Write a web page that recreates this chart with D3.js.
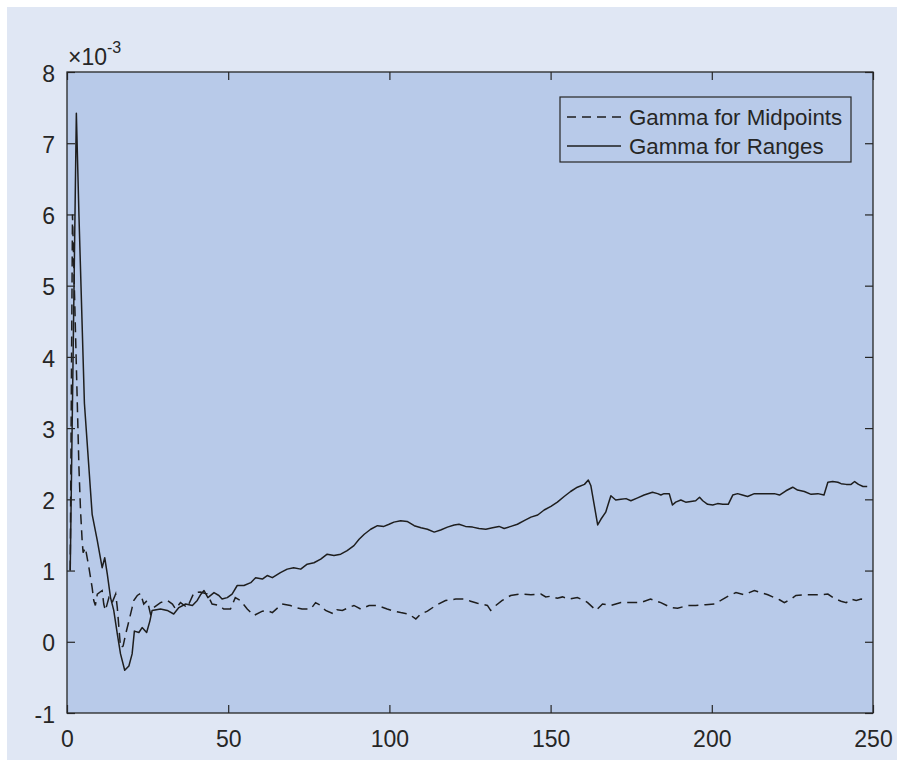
<!DOCTYPE html>
<html><head><meta charset="utf-8">
<script src="https://cdn.jsdelivr.net/npm/d3@7"></script>
<style>
html,body{margin:0;padding:0;background:#ffffff;}
svg text{font-family:"Liberation Sans",Arial,Helvetica,sans-serif;fill:#262626;}
</style></head>
<body>
<svg id="chart" width="904" height="767"></svg>
<script>
// ---- data (values in units of 1e-3) ----
const xTicks = [0, 50, 100, 150, 200, 250];
const yTicks = [-1, 0, 1, 2, 3, 4, 5, 6, 7, 8];
const seriesNames = ["Gamma for Midpoints", "Gamma for Ranges"];

const rangesX = [1.0,2.9,3.7,5.4,7.8,9.4,10.9,11.7,12.5,13.5,14.5,15.6,16.6,17.9,19.2,20.2,20.9,22.3,23.3,24.7,25.7,26.4,29.0,31.1,33.1,34.7,36.8,38.9,40.4,41.4,42.5,43.7,45.6,47.1,48.1,49.7,51.2,52.8,54.9,57.0,58.5,60.6,62.1,63.7,66.2,68.3,70.3,72.5,74.5,76.6,78.7,80.7,82.8,84.9,86.9,89.0,90.6,92.2,94.2,96.3,98.3,99.9,101.4,103.5,105.5,107.7,109.8,111.8,113.9,115.9,118.0,120.1,121.6,123.6,125.8,127.8,129.9,132.0,134.0,135.6,137.7,139.7,141.8,143.9,146.0,148.0,150.1,152.1,154.2,156.2,158.3,160.5,161.7,162.5,163.5,164.6,165.6,167.1,168.2,168.7,170.2,171.8,173.4,174.9,177.0,179.0,181.6,183.2,184.2,185.2,186.8,187.8,188.8,190.4,191.9,193.5,195.0,196.2,197.2,198.7,200.3,201.8,203.4,205.1,206.5,208.0,209.5,211.1,213.2,215.3,217.4,219.4,221.0,223.0,225.1,226.6,228.7,230.8,232.9,234.8,236.0,237.5,239.1,240.1,241.7,243.2,244.3,245.5,246.9,248.2];
const rangesV = [1.0,7.42,6.0,3.35,1.79,1.42,1.04,1.18,0.95,0.62,0.44,0.11,-0.17,-0.40,-0.34,-0.17,0.15,0.13,0.20,0.13,0.29,0.44,0.46,0.44,0.39,0.48,0.53,0.51,0.58,0.66,0.72,0.62,0.69,0.65,0.60,0.62,0.67,0.79,0.79,0.83,0.90,0.88,0.93,0.90,0.97,1.02,1.04,1.02,1.09,1.11,1.16,1.23,1.21,1.23,1.28,1.35,1.44,1.51,1.58,1.63,1.62,1.65,1.68,1.70,1.69,1.63,1.60,1.58,1.54,1.57,1.61,1.64,1.65,1.62,1.61,1.59,1.58,1.60,1.62,1.59,1.62,1.65,1.70,1.75,1.78,1.85,1.90,1.96,2.04,2.11,2.17,2.21,2.27,2.19,1.93,1.64,1.72,1.82,1.98,2.05,1.99,2.00,2.01,1.98,2.02,2.06,2.10,2.08,2.06,2.08,2.08,1.92,1.96,1.99,1.96,1.97,1.98,2.03,1.98,1.93,1.92,1.94,1.93,1.93,2.06,2.08,2.06,2.04,2.08,2.08,2.08,2.08,2.06,2.12,2.17,2.13,2.11,2.07,2.08,2.06,2.24,2.25,2.24,2.22,2.21,2.21,2.25,2.21,2.18,2.18];

const midX = [1.0,1.7,3.2,3.7,4.2,4.7,5.0,5.7,6.8,7.8,8.3,8.8,9.4,10.9,11.4,11.9,13.0,14.0,15.1,15.6,16.1,16.6,17.4,18.2,19.2,20.2,20.7,21.8,22.8,23.8,24.9,25.9,26.9,29.0,31.1,32.7,33.7,35.2,37.3,39.4,41.4,43.5,45.0,47.1,48.6,50.7,52.2,53.8,55.9,58.0,60.6,62.1,63.7,66.7,69.3,70.9,72.9,75.6,77.1,78.7,80.2,82.8,83.8,85.4,87.4,89.0,91.1,93.7,96.3,99.3,101.4,103.5,106.0,108.2,109.7,111.8,114.4,117.4,120.6,123.2,125.2,127.3,130.4,131.4,133.0,135.0,137.6,140.7,143.9,147.0,148.5,150.1,152.1,153.7,155.7,158.3,160.5,161.5,164.1,166.1,168.7,171.8,174.8,177.9,181.0,184.2,187.3,189.4,192.5,195.0,198.1,200.8,202.8,205.4,207.5,210.0,211.6,213.2,215.3,217.4,219.4,221.0,222.5,224.6,226.1,228.8,231.8,233.9,236.0,238.0,240.1,241.7,243.2,244.8,246.3,248.0];
const midV = [1.0,6.0,3.34,2.45,1.84,1.42,1.25,1.32,1.04,0.76,0.58,0.51,0.67,0.72,0.53,0.44,0.62,0.55,0.67,0.48,0.20,-0.08,-0.06,0.11,0.29,0.48,0.58,0.65,0.68,0.53,0.58,0.39,0.48,0.55,0.58,0.53,0.46,0.55,0.48,0.69,0.70,0.67,0.53,0.51,0.46,0.46,0.62,0.58,0.46,0.37,0.43,0.44,0.41,0.53,0.51,0.48,0.46,0.46,0.55,0.51,0.44,0.39,0.45,0.44,0.48,0.51,0.46,0.51,0.51,0.46,0.43,0.41,0.39,0.32,0.39,0.43,0.51,0.58,0.60,0.60,0.57,0.54,0.51,0.44,0.51,0.58,0.65,0.67,0.66,0.67,0.63,0.64,0.61,0.63,0.60,0.62,0.58,0.55,0.44,0.53,0.51,0.55,0.55,0.55,0.60,0.55,0.48,0.47,0.51,0.51,0.52,0.53,0.58,0.65,0.69,0.66,0.69,0.72,0.69,0.66,0.62,0.59,0.55,0.60,0.65,0.66,0.66,0.66,0.67,0.61,0.57,0.55,0.60,0.58,0.60,0.59];

// ---- layout ----
const L = 67, R = 873, T = 72, B = 713;
const ink = "#262626";
const lineInk = "#1e1e1e";
const svg = d3.select("#chart");

svg.append("rect").attr("x", 7).attr("y", 7).attr("width", 890).attr("height", 753).attr("fill", "#e0e7f4");
svg.append("rect").attr("x", L).attr("y", T).attr("width", R - L).attr("height", B - T).attr("fill", "#b8cae9");

const x = d3.scaleLinear().domain([0, 250]).range([L, R]);
const y = d3.scaleLinear().domain([-1, 8]).range([B, T]);

svg.append("defs").append("clipPath").attr("id", "clip")
  .append("rect").attr("x", L).attr("y", T).attr("width", R - L).attr("height", B - T);

const line = d3.line().x(d => x(d[0])).y(d => y(d[1]));
const plot = svg.append("g").attr("clip-path", "url(#clip)");

const midData = midX.map((v, i) => [v, midV[i]]);
const rngData = rangesX.map((v, i) => [v, rangesV[i]]);

plot.append("path").datum(midData).attr("d", line).attr("fill", "none")
  .attr("stroke", lineInk).attr("stroke-width", 1.5).attr("stroke-dasharray", "10,6");
plot.append("path").datum(rngData).attr("d", line).attr("fill", "none")
  .attr("stroke", lineInk).attr("stroke-width", 1.5).attr("stroke-linejoin", "round");

// ---- axes ----
const fmt = d => String(d);
function styleAxis(g) {
  g.select(".domain").remove();
  g.selectAll(".tick line").attr("stroke", ink).attr("stroke-width", 1.2);
  g.selectAll(".tick text").attr("fill", ink).attr("font-size", 23);
}
const gx = svg.append("g").attr("transform", `translate(0,${B})`)
  .call(d3.axisBottom(x).tickValues(xTicks).tickFormat(fmt).tickSizeInner(-8).tickSizeOuter(0).tickPadding(18));
styleAxis(gx);
const gxt = svg.append("g").attr("transform", `translate(0,${T})`)
  .call(d3.axisTop(x).tickValues(xTicks).tickSizeInner(-8).tickSizeOuter(0).tickFormat(""));
styleAxis(gxt);
const gy = svg.append("g").attr("transform", `translate(${L},0)`)
  .call(d3.axisLeft(y).tickValues(yTicks).tickFormat(fmt).tickSizeInner(-8).tickSizeOuter(0).tickPadding(12));
styleAxis(gy);
gy.selectAll(".tick text").attr("dy", "0.4em");
const gyr = svg.append("g").attr("transform", `translate(${R},0)`)
  .call(d3.axisRight(y).tickValues(yTicks).tickSizeInner(-8).tickSizeOuter(0).tickFormat(""));
styleAxis(gyr);

// box
svg.append("rect").attr("x", L).attr("y", T).attr("width", R - L).attr("height", B - T)
  .attr("fill", "none").attr("stroke", ink).attr("stroke-width", 1.3);

// exponent label
const ex = svg.append("text").attr("x", 68).attr("y", 65).attr("font-size", 23).attr("fill", ink);
ex.append("tspan").text("\u00d710");
ex.append("tspan").attr("font-size", 16).attr("dy", -12).text("-3");

// ---- legend ----
const lg = svg.append("g");
lg.append("rect").attr("x", 560).attr("y", 97).attr("width", 291).attr("height", 65)
  .attr("fill", "#b8cae9").attr("stroke", ink).attr("stroke-width", 1.2);
const rows = [{name: seriesNames[0], dash: "9,6", cy: 117}, {name: seriesNames[1], dash: null, cy: 146}];
rows.forEach(r => {
  lg.append("line").attr("x1", 567).attr("x2", 621).attr("y1", r.cy).attr("y2", r.cy)
    .attr("stroke", lineInk).attr("stroke-width", 1.5).attr("stroke-dasharray", r.dash);
  lg.append("text").attr("x", 629).attr("y", r.cy).attr("dy", "0.36em")
    .attr("font-size", 22.3).attr("fill", ink).text(r.name);
});
</script>
</body></html>
